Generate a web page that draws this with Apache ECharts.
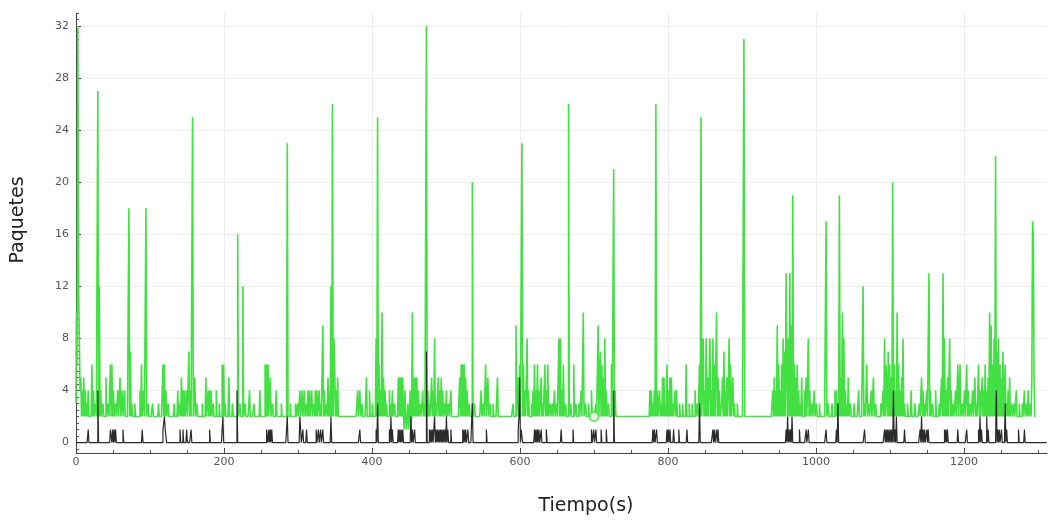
<!DOCTYPE html>
<html><head><meta charset="utf-8">
<script src="https://cdn.jsdelivr.net/npm/echarts@6/dist/echarts.min.js"></script>
<style>html,body{margin:0;padding:0;background:#fff}#c{width:1050px;height:521px}</style>
</head><body><div id="c"></div>
<script>
// ---- data (time in s, packets) ----
const greenBaseline = 2;
const greenEnd = 1297;
const greenPeaks = [
[0,3],[1,10],[2,6],[3,32],[4,12],[5,8],[6,4],[7,5],[9,4],[11,5],[13,4],[15,3],[17,4],
[22,6],[24,4],[27,3],[30,27],[32,12],[34,4],[37,3],
[41,5],[44,3],[47,6],[49,6],[51,4],[54,3],[57,4],[60,5],[63,4],[66,4],
[72,18],[74,7],[76,3],[80,3],[87,4],[89,6],[92,4],[95,18],[98,3],[104,3],[112,3],
[118,6],[120,6],[122,4],[125,3],[133,3],[138,4],[141,3],[143,5],[145,4],[147,4],[150,4],[153,7],[155,4],[158,25],[161,5],[164,3],
[171,3],[176,5],[179,4],[181,4],[183,4],[186,3],[190,4],[194,3],[198,6],[200,6],[202,3],[207,5],[212,3],
[219,16],[222,3],[226,12],[229,3],[235,4],[241,3],[249,4],
[256,6],[258,6],[260,6],[263,5],[266,3],[271,4],[278,3],[286,23],[290,3],
[297,3],[300,3],[303,4],[306,4],[309,4],[312,3],[314,4],[316,4],[319,4],[322,3],[324,4],[326,4],[329,4],[331,3],
[334,9],[336,4],[339,3],[341,5],[343,4],[345,12],[347,26],[349,8],[350,6],[352,4],[354,5],
[381,4],[384,4],[387,3],[393,5],[397,4],[401,3],
[406,8],[408,25],[410,6],[412,4],[414,10],[416,5],[418,4],[420,3],[424,4],[426,3],[428,4],[431,3],
[436,5],[438,5],[440,5],[442,5],[444,1],[445,4],[447,1],[449,3],[450,1],[452,4],[453,1],[455,10],[457,5],[459,5],[461,5],[463,4],
[466,3],[469,4],[471,3],[474,32],[476,4],[478,3],[481,5],[483,4],[485,8],[487,3],[490,5],[492,4],[494,5],[496,4],[499,3],[501,4],[504,3],[507,4],
[519,5],[521,6],[523,6],[525,6],[527,5],[529,4],[532,3],[536,20],[539,3],
[548,4],[551,3],[554,6],[557,5],[560,3],[564,3],[570,5],
[591,3],[595,9],[598,5],[600,6],[603,23],[605,6],[607,4],[610,8],[612,4],
[616,3],[618,4],[620,6],[622,4],[624,6],[626,4],[629,5],[631,3],[634,6],[636,4],[638,6],[641,3],[644,3],[647,4],[650,3],[653,8],[655,8],[657,4],[659,6],[662,3],
[666,26],[669,3],[673,6],[676,3],[680,3],[683,4],[686,10],[689,3],[693,3],[697,4],[703,3],[706,9],[708,5],[709,7],[711,6],[713,5],[715,8],[717,4],[720,3],[724,6],[727,21],[729,4],
[776,4],[778,4],[780,3],[782,4],[784,26],[786,4],[789,4],[791,3],[793,5],[795,5],[797,3],[799,6],[801,4],[803,5],[805,5],[807,3],[810,4],[812,4],[816,3],[820,3],[825,6],[829,3],[833,3],[837,4],[840,3],
[843,6],[845,25],[847,5],[848,8],[850,4],[852,8],[854,5],[857,8],[859,4],[861,8],[863,6],[866,10],[868,5],[870,4],[873,3],[874,5],[876,7],[878,4],[880,5],[883,8],[885,6],[888,5],[890,3],[894,3],
[903,31],
[942,4],[944,5],[946,4],[948,9],[950,6],[952,4],[954,6],[956,8],[958,7],[960,13],[961,6],[963,8],[965,13],[967,9],[969,19],[971,6],[973,5],[975,6],[977,4],[979,3],[981,5],
[985,4],[987,5],[990,8],[992,4],[995,3],[998,4],[1001,3],[1005,3],
[1014,17],[1017,3],[1022,3],[1026,4],[1028,4],[1030,3],[1032,19],[1034,5],[1036,10],[1038,8],[1040,4],[1042,3],[1044,5],[1047,3],
[1052,3],[1058,4],[1064,12],[1066,3],[1069,6],[1072,3],[1075,4],[1078,5],[1081,3],
[1088,3],[1091,4],[1093,8],[1095,6],[1096,6],[1098,7],[1100,6],[1102,5],[1104,20],[1106,6],[1108,4],[1110,10],[1112,6],[1114,4],[1116,5],[1118,8],[1120,3],[1124,3],[1129,4],[1134,3],
[1140,3],[1143,5],[1145,4],[1147,3],[1150,4],[1153,13],[1155,4],[1158,3],[1162,4],
[1167,3],[1170,5],[1172,13],[1174,8],[1176,4],[1178,5],[1181,8],[1183,4],[1186,3],[1189,4],[1192,6],[1194,4],[1195,6],[1198,3],[1201,4],[1204,6],[1206,4],[1209,3],[1212,4],[1215,5],[1217,3],[1220,6],[1222,4],[1225,5],[1227,4],[1229,6],[1231,4],[1233,5],[1235,10],[1237,9],[1239,6],[1241,8],[1243,22],[1245,7],[1247,8],[1249,6],[1251,5],[1253,7],[1255,4],[1256,6],[1258,3],[1260,4],[1262,5],[1265,3],[1268,3],[1271,4],[1275,3],[1279,3],[1282,4],[1285,3],[1287,4],[1290,3],[1292,5],[1293,17],[1294,16],[1295,5]
];
const blackBaseline = 0;
const blackEnd = 1312;
const blackPeaks = [
[17,1],[30,4],[47,1],[48,1],[50,1],[52,1],[54,1],[64,1],[90,1],[118,1],[119,1],[120,2],[121,1],[122,1],
[141,1],[145,1],[150,1],[156,1],[181,1],[199,2],[218,4],[258,1],[259,1],[261,1],[263,1],[265,1],[286,2],
[303,2],[304,1],[307,1],[312,1],[325,1],[328,1],[331,1],[334,1],[345,2],[384,1],[406,1],[408,3],
[424,1],[426,2],[428,1],[436,1],[438,1],[440,1],[442,1],[453,2],[455,1],[458,1],[474,7],
[478,1],[480,1],[482,1],[484,1],[485,2],[487,1],[489,1],[491,1],[493,1],[495,1],[497,1],[499,1],[501,2],[503,1],[507,1],
[523,1],[525,1],[527,1],[530,1],[536,3],[555,1],[598,1],[599,2],[600,5],[602,1],[603,1],
[620,1],[622,1],[624,1],[626,1],[629,1],[636,1],[656,1],[672,1],[697,1],[700,1],[703,1],[710,1],[717,1],[727,4],
[780,1],[782,1],[785,1],[799,1],[801,1],[803,1],[808,1],[815,1],[826,1],[843,3],[861,1],[863,1],[866,1],[868,1],
[960,1],[962,2],[964,1],[966,1],[968,2],[978,1],[987,1],[990,1],[1014,1],[1028,1],[1030,3],[1066,1],
[1093,1],[1095,1],[1097,1],[1099,1],[1101,1],[1103,1],[1105,4],[1107,1],[1109,2],[1120,1],
[1141,1],[1143,2],[1145,1],[1147,1],[1150,1],[1152,1],[1174,1],[1176,1],[1178,1],[1192,1],[1204,1],
[1220,1],[1222,2],[1224,1],[1231,2],[1233,1],[1244,4],[1246,1],[1248,1],[1251,1],[1256,3],[1258,1],[1274,1],[1282,1]
];
const markerPoints = [[700, 2]];
const yTickValues = [0, 4, 8, 12, 16, 20, 24, 28, 32];
const xTickValues = [0, 200, 400, 600, 800, 1000, 1200];
const xName = 'Tiempo(s)';
const yName = 'Paquetes';

// per-second series: seconds not listed sit at the series baseline
function buildSeries(peaks, base, end) {
  const m = new Map(peaks);
  const out = [];
  for (let t = 0; t <= end; t++) out.push([t, m.has(t) ? m.get(t) : base]);
  return out;
}
const yMinor = []; for (let v = -0.5; v <= 33; v += 0.5) yMinor.push(v);
const xMinor = []; for (let v = 50; v <= 1300; v += 50) xMinor.push(v);

const font = 'DejaVu Sans';
const green = '#42e042';
const chart = echarts.init(document.getElementById('c'));
chart.setOption({
  animation: false,
  backgroundColor: '#ffffff',
  grid: { left: 76, right: 3, top: 13, bottom: 63, containLabel: false },
  xAxis: [{
    type: 'value', min: 0, max: 1312, position: 'bottom',
    axisLine: { show: true, onZero: false, lineStyle: { color: '#444', width: 1 } },
    axisTick: { show: true, inside: true, length: 5, customValues: xTickValues, lineStyle: { color: '#444' } },
    axisLabel: { customValues: xTickValues, formatter: v => String(v), color: '#555', fontSize: 11, fontFamily: font, margin: 4 },
    splitLine: { show: true, lineStyle: { color: '#ededed', width: 1 } },
    name: xName, nameLocation: 'middle', nameGap: 44,
    nameTextStyle: { color: '#222', fontSize: 19, fontFamily: font, padding: [0, 0, 0, 49] }
  }, {
    type: 'value', min: 0, max: 1312, position: 'bottom',
    axisLine: { show: false, onZero: false },
    axisTick: { show: true, inside: true, length: 3, customValues: xMinor, lineStyle: { color: '#555' } },
    axisLabel: { show: false }, splitLine: { show: false }
  }],
  yAxis: [{
    type: 'value', min: -0.8, max: 33, position: 'left',
    axisLine: { show: true, onZero: false, lineStyle: { color: '#444', width: 1 } },
    axisTick: { show: true, inside: true, length: 5, customValues: yTickValues, lineStyle: { color: '#444' } },
    axisLabel: { customValues: yTickValues, formatter: v => String(v), color: '#555', fontSize: 11, fontFamily: font, margin: 7 },
    splitLine: { show: true, lineStyle: { color: '#ededed', width: 1 } },
    name: yName, nameLocation: 'middle', nameGap: 48, nameRotate: 90,
    nameTextStyle: { color: '#222', fontSize: 19, fontFamily: font, padding: [0, 0, 0, 26] }
  }, {
    type: 'value', min: -0.8, max: 33, position: 'left',
    axisLine: { show: false, onZero: false },
    axisTick: { show: true, inside: true, length: 3, customValues: yMinor, lineStyle: { color: '#555' } },
    axisLabel: { show: false }, splitLine: { show: false }
  }],
  series: [{
    type: 'line', name: 'verde', xAxisIndex: 0, yAxisIndex: 0,
    data: buildSeries(greenPeaks, greenBaseline, greenEnd),
    step: 'middle', showSymbol: false, symbol: 'none',
    lineStyle: { color: green, width: 1.6 }, z: 3
  }, {
    type: 'line', name: 'negro', xAxisIndex: 0, yAxisIndex: 0,
    data: buildSeries(blackPeaks, blackBaseline, blackEnd),
    step: 'middle', showSymbol: false, symbol: 'none',
    lineStyle: { color: '#2b2b2b', width: 1.2 }, z: 4
  }, {
    type: 'scatter', xAxisIndex: 0, yAxisIndex: 0, data: markerPoints,
    symbol: 'emptyCircle', symbolSize: 9,
    itemStyle: { color: green, borderColor: green, borderWidth: 1.5 }, z: 5
  }]
});
</script></body></html>
